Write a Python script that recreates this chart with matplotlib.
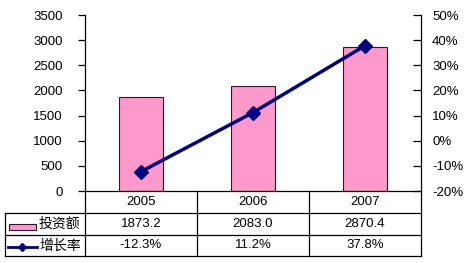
import matplotlib
matplotlib.use('Agg')
import matplotlib.pyplot as plt
import matplotlib.transforms as mtransforms
from matplotlib.lines import Line2D
from matplotlib.patches import Rectangle

plt.rcParams['font.family'] = ['Liberation Sans', 'Noto Sans CJK SC']
plt.rcParams['font.size'] = 9

years = ['2005', '2006', '2007']
invest = [1873.2, 2083.0, 2870.4]
growth = [-12.3, 11.2, 37.8]
invest_labels = ['1873.2', '2083.0', '2870.4']
growth_labels = ['-12.3%', '11.2%', '37.8%']
row_names = ['投资额', '增长率']

W, H = 470, 263
fig = plt.figure(figsize=(W / 100, H / 100), dpi=100)
fig.patch.set_facecolor('white')

def fx(p): return p / W
def fy(p): return 1 - p / H

# plot area in pixels
left, right, top, base = 85, 421, 15, 191
ax = fig.add_axes([fx(left), fy(base), fx(right - left), (base - top) / H])
x = list(range(len(years)))
ax.bar(x, invest, width=0.4, color='#ff99cc', edgecolor='#3a1030', linewidth=0.8, zorder=2)
ax.set_xlim(-0.5, 2.5)
ax.set_ylim(0, 3500)
ax.set_yticks(range(0, 3501, 500))
ax.set_xticks([])
for s in ['top', 'bottom', 'right']:
    ax.spines[s].set_visible(False)
ax.spines['left'].set_linewidth(0.9)
ax.tick_params(axis='y', length=5, width=0.9, pad=11, labelsize=9.5)

ax2 = ax.twinx()
ax2.plot(x, growth, color='#000080', lw=2.5, marker='D', ms=7, zorder=3)
ax2.set_ylim(-20, 50)
ax2.set_yticks(range(-20, 51, 10))
ax2.set_yticklabels([f'{v}%' for v in range(-20, 51, 10)])
for s in ['top', 'bottom', 'left']:
    ax2.spines[s].set_visible(False)
ax2.spines['right'].set_linewidth(0.9)
ax2.tick_params(axis='y', direction='in', length=6, width=0.9, pad=8, labelsize=9.5)

# data table under the plot
trans = mtransforms.blended_transform_factory(ax.transData, fig.transFigure)
rows = [191, 213, 235, 256]
lc = 'black'
lw = 0.9
# horizontal lines
fig.add_artist(Line2D([-0.5, 2.5], [fy(rows[0])] * 2, transform=trans, color=lc, lw=lw))
for r in rows[1:]:
    fig.add_artist(Line2D([fx(5), fx(left)], [fy(r)] * 2, transform=fig.transFigure, color=lc, lw=lw))
    fig.add_artist(Line2D([-0.5, 2.5], [fy(r)] * 2, transform=trans, color=lc, lw=lw))
# vertical lines
for b in [-0.5, 0.5, 1.5, 2.5]:
    fig.add_artist(Line2D([b, b], [fy(rows[0]), fy(rows[3])], transform=trans, color=lc, lw=lw))
fig.add_artist(Line2D([fx(5), fx(5)], [fy(rows[1]), fy(rows[3])], transform=fig.transFigure, color=lc, lw=lw))

for i, yr in enumerate(years):
    fig.text(i, fy((rows[0] + rows[1]) / 2), yr, transform=trans, ha='center', va='center', fontsize=9.5)
    fig.text(i, fy((rows[1] + rows[2]) / 2), invest_labels[i], transform=trans, ha='center', va='center', fontsize=9.5)
    fig.text(i, fy((rows[2] + rows[3]) / 2), growth_labels[i], transform=trans, ha='center', va='center', fontsize=9.5)

# row headers with legend keys
fig.add_artist(Rectangle((fx(9), fy(230)), fx(27), 6 / H, transform=fig.transFigure,
                         facecolor='#ff99cc', edgecolor='#3a1030', lw=0.8))
fig.add_artist(Line2D([fx(8), fx(37)], [fy(247)] * 2, transform=fig.transFigure,
                      color='#000080', lw=2))
fig.add_artist(Line2D([fx(22)], [fy(247)], transform=fig.transFigure,
                      color='#000080', marker='D', ms=4.5, lw=0))
fig.text(fx(39), fy(224), row_names[0], ha='left', va='center', fontsize=10, family='Noto Sans CJK SC')
fig.text(fx(39), fy(246), row_names[1], ha='left', va='center', fontsize=10, family='Noto Sans CJK SC')

plt.savefig('out.png', dpi=100)
